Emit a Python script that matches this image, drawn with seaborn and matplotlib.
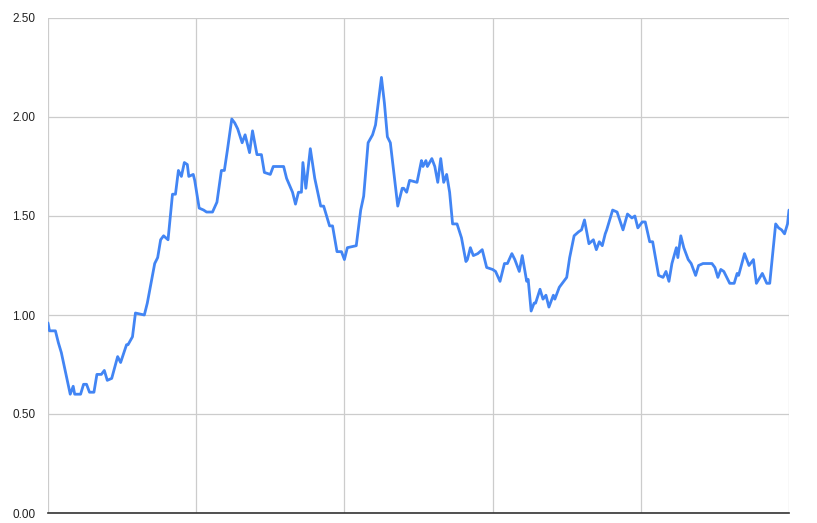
import numpy as np
import pandas as pd
import matplotlib
matplotlib.use("Agg")
import matplotlib.pyplot as plt
import seaborn as sns

# Values (x = sample index, 0..500)
day = [0, 1, 5, 7, 9, 15, 17, 18, 22, 24, 26, 28, 31, 33, 36, 38, 40, 43, 47, 49,
       53, 54, 57, 59, 65, 67, 72, 74, 76, 78, 81, 84, 86, 88, 90, 92, 94, 95, 98, 99,
       102, 105, 107, 111, 114, 117, 119, 121, 124, 126, 128, 131, 133, 136, 138, 141, 144, 146, 150, 152,
       159, 161, 165, 167, 169, 171, 172, 174, 177, 180, 184, 186, 190, 192, 195, 198, 200, 202, 208, 211,
       213, 216, 219, 221, 225, 227, 229, 231, 236, 239, 240, 242, 244, 249, 252, 253, 255, 256, 259, 261,
       263, 265, 267, 269, 271, 273, 276, 279, 282, 283, 285, 287, 290, 293, 296, 300, 302, 305, 308, 310,
       313, 315, 318, 320, 323, 324, 326, 328, 329, 332, 334, 336, 338, 341, 342, 345, 347, 350, 352, 355,
       358, 360, 362, 365, 368, 370, 372, 374, 376, 377, 381, 384, 388, 391, 394, 396, 398, 401, 403, 406,
       408, 412, 415, 417, 419, 421, 424, 425, 427, 429, 432, 434, 437, 439, 442, 448, 450, 452, 454, 456,
       460, 463, 465, 466, 470, 473, 476, 478, 482, 485, 487, 491, 493, 495, 497, 499, 500]
value = [0.96, 0.92, 0.92, 0.86, 0.81, 0.60, 0.64, 0.60, 0.60, 0.65, 0.65, 0.61, 0.61, 0.70, 0.70, 0.72, 0.67, 0.68, 0.79, 0.76,
         0.85, 0.85, 0.89, 1.01, 1.00, 1.06, 1.26, 1.29, 1.38, 1.40, 1.38, 1.61, 1.61, 1.73, 1.70, 1.77, 1.76, 1.70, 1.71, 1.68,
         1.54, 1.53, 1.52, 1.52, 1.57, 1.73, 1.73, 1.83, 1.99, 1.97, 1.94, 1.87, 1.91, 1.82, 1.93, 1.81, 1.81, 1.72, 1.71, 1.75,
         1.75, 1.69, 1.62, 1.56, 1.62, 1.62, 1.77, 1.64, 1.84, 1.69, 1.55, 1.55, 1.45, 1.45, 1.32, 1.32, 1.28, 1.34, 1.35, 1.53,
         1.60, 1.87, 1.91, 1.96, 2.20, 2.07, 1.90, 1.87, 1.55, 1.64, 1.64, 1.62, 1.68, 1.67, 1.78, 1.75, 1.78, 1.75, 1.79, 1.75,
         1.67, 1.79, 1.67, 1.71, 1.62, 1.46, 1.46, 1.39, 1.27, 1.28, 1.34, 1.30, 1.31, 1.33, 1.24, 1.23, 1.22, 1.17, 1.26, 1.26,
         1.31, 1.28, 1.22, 1.30, 1.17, 1.18, 1.02, 1.06, 1.06, 1.13, 1.08, 1.10, 1.04, 1.10, 1.08, 1.14, 1.16, 1.19, 1.29, 1.40,
         1.42, 1.43, 1.48, 1.36, 1.38, 1.33, 1.37, 1.35, 1.41, 1.43, 1.53, 1.52, 1.43, 1.51, 1.49, 1.50, 1.44, 1.47, 1.47, 1.37,
         1.37, 1.20, 1.19, 1.22, 1.17, 1.26, 1.34, 1.29, 1.40, 1.34, 1.28, 1.26, 1.20, 1.25, 1.26, 1.26, 1.24, 1.19, 1.23, 1.22,
         1.16, 1.16, 1.21, 1.20, 1.31, 1.25, 1.28, 1.16, 1.21, 1.16, 1.16, 1.46, 1.44, 1.43, 1.41, 1.46, 1.53]

y_ticks = [0.0, 0.5, 1.0, 1.5, 2.0, 2.5]
x_grid = [0, 100, 200, 300, 400, 500]

df = pd.DataFrame({"day": day, "value": value})

sns.set_style("white")
plt.rcParams['font.family'] = ['Liberation Sans', 'DejaVu Sans']

fig = plt.figure(figsize=(8.17, 5.23), dpi=100)
ax = fig.add_axes([48 / 817, 10 / 523, 741 / 817, 495 / 523])

sns.lineplot(data=df, x="day", y="value", ax=ax, color="#4285F4", linewidth=2.0,
             solid_joinstyle="round", solid_capstyle="round")

ax.set_xlim(0, 500)
ax.set_ylim(0, 2.5)
ax.set_xticks(x_grid)
ax.set_xticklabels([])
ax.set_yticks(y_ticks)
ax.set_yticklabels([f"{t:.2f}" for t in y_ticks], fontsize=8.5, color="#222222")
ax.tick_params(axis="both", length=0)
ax.tick_params(axis="y", pad=9)
ax.grid(True, color="#cccccc", linewidth=0.9)
ax.set_axisbelow(True)
ax.set_xlabel("")
ax.set_ylabel("")

for side in ["top", "right", "left"]:
    ax.spines[side].set_visible(False)
ax.spines["bottom"].set_color("#333333")
ax.spines["bottom"].set_linewidth(1.2)

fig.savefig("out.png", dpi=100)
plt.close(fig)
